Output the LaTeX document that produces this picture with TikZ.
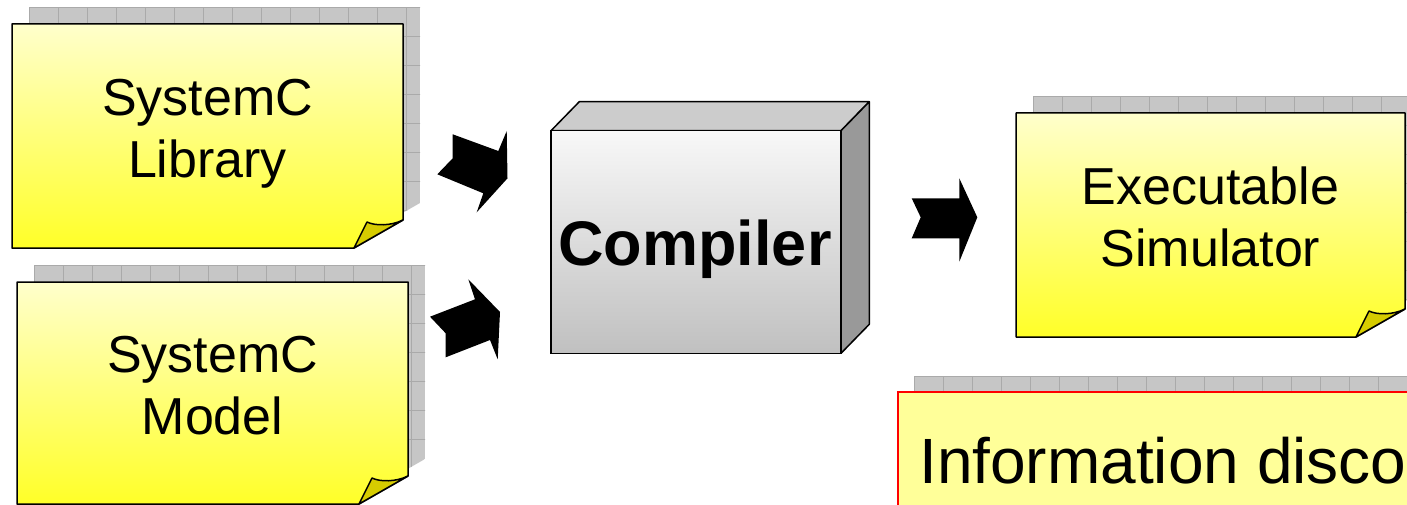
\documentclass[tikz,border=0pt]{standalone}
\usepackage{fontspec}
\setmainfont{Liberation Sans}
\usetikzlibrary{calc}

\definecolor{noteTop}{RGB}{255,255,204}
\definecolor{noteBot}{RGB}{255,255,40}
\definecolor{foldFill}{RGB}{214,204,0}
\definecolor{shadowGray}{RGB}{198,198,198}
\definecolor{shadowLine}{RGB}{170,170,170}
\definecolor{boxTop}{RGB}{204,204,204}
\definecolor{boxSide}{RGB}{153,153,153}
\definecolor{boxHi}{RGB}{248,248,248}
\definecolor{boxLo}{RGB}{192,192,192}
\definecolor{infoFill}{RGB}{255,255,153}

% sticky note: left, top, right, bottom (y grows downwards)
\newcommand{\notepaper}[4]{%
  \begin{scope}
    \clip (#1+17,#2-17) -- (#3+17,#2-17) -- (#3+17,#4-17-28) -- (#3+17-49,#4-17) -- (#1+17,#4-17) -- cycle;
    \fill[shadowGray] (#1+17,#2-17) rectangle (#3+17,#4-17);
    \begin{scope}[shift={(#1+17,#2-17)}]
      \draw[shadowLine, line width=0.8pt, step=29pt] (0,0) grid (#3-#1+29,#4-#2+29);
    \end{scope}
  \end{scope}
  \shadedraw[top color=noteTop, bottom color=noteBot, draw=black, line width=1.5pt, line join=round]
    (#1,#2) -- (#3,#2) -- (#3,#4-28) -- (#3-49,#4) -- (#1,#4) -- cycle;
  \filldraw[fill=foldFill, draw=black, line width=1.5pt, line join=round]
    (#3-49,#4) -- (#3-36,#4-26) .. controls (#3-28,#4-22) and (#3-12,#4-22) .. (#3,#4-28) -- cycle;
}

\tikzset{
  notetext/.style={font=\fontsize{52}{62}\selectfont, align=center, inner sep=0pt},
  blockarrow/.style={fill=black, draw=none},
}

\begin{document}
\begin{tikzpicture}[x=1pt, y=-1pt]
  \useasboundingbox (0,0) rectangle (1407,505);
  \clip (0,0) rectangle (1407,505);

  % input notes
  \notepaper{12}{24}{403}{248}
  \node[notetext] (lib) at (207.5,134) {SystemC\\Library};

  \notepaper{17}{282}{408}{504}
  \node[notetext] (model) at (212.5,386) {SystemC\\Model};

  % output note
  \notepaper{1016}{113}{1405}{337}
  \node[notetext] (exe) at (1210.5,217) {Executable\\Simulator};

  % compiler block
  \filldraw[fill=boxTop, draw=black, line width=1.5pt, line join=round]
    (551,130.7) -- (579.3,101.7) -- (869.3,101.7) -- (841,130.7) -- cycle;
  \filldraw[fill=boxSide, draw=black, line width=1.5pt, line join=round]
    (841,130.7) -- (869.3,101.7) -- (869.3,324.3) -- (841,353.3) -- cycle;
  \shadedraw[top color=boxHi, bottom color=boxLo, draw=black, line width=1.5pt]
    (551,130.7) rectangle (841,353.3);
  \node[font=\fontsize{63}{70}\selectfont\bfseries, anchor=base, inner sep=0pt] (comp) at (695,265) {Compiler};

  % notched block arrows
  \fill[blockarrow] (452.7,134.3) -- (498.3,151) -- (506.7,131) -- (507.5,178.3)
    -- (476.7,212.3) -- (483.3,193.3) -- (437.3,174.3) -- (452.7,158.3) -- cycle;
  \fill[blockarrow] (430,316.7) -- (475,299.3) -- (468.3,279.3) -- (500,312)
    -- (497.7,359.3) -- (490,340) -- (445.7,357.3) -- (445.7,333.3) -- cycle;
  \fill[blockarrow] (911.7,198.3) -- (959.3,198.3) -- (959.3,178.3) -- (977.3,217.3)
    -- (959.3,261.7) -- (959.3,238.3) -- (911.7,238.3) -- (920.7,217.3) -- cycle;

  % information box
  \begin{scope}
    \fill[shadowGray] (914,376) rectangle (1440,530);
    \begin{scope}[shift={(914,376)}]
      \draw[shadowLine, line width=0.8pt, step=29pt] (0,0) grid (530,160);
    \end{scope}
  \end{scope}
  \filldraw[fill=infoFill, draw=red, line width=1.5pt] (898,392) rectangle (1430,530);
  \node[font=\fontsize{64}{70}\selectfont, anchor=base west, inner sep=0pt] (info) at (919,483) {Information disco};
\end{tikzpicture}
\end{document}
